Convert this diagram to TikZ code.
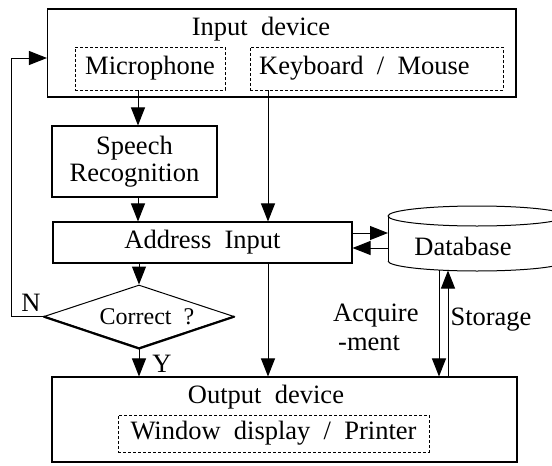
\documentclass[tikz,border=0pt]{standalone}
\usepackage{fontspec}
\setmainfont{Liberation Serif}
\usetikzlibrary{arrows.meta,shapes.geometric}
\begin{document}
\begin{tikzpicture}[x=1pt,y=-1pt,
  every node/.style={font=\fontsize{26.5}{27}\selectfont, inner sep=0pt},
  box/.style={draw, line width=1.1pt, inner sep=0pt},
  dbox/.style={draw, line width=0.8pt, dash pattern=on 3pt off 2pt},
  arr/.style={line width=1pt, -{Triangle[length=18pt,width=14pt]}},
  ln/.style={line width=1pt}]
\useasboundingbox (0,0) rectangle (552,466);
\clip (0,0) rectangle (552,466);

% boxes
\node[box, minimum width=468.5, minimum height=88] (input) at (281.75,53) {};
\node (inlabel) at (261,29) {Input~~device};
\node[dbox, minimum width=150, minimum height=43] (mic) at (150,68.5) {Microphone};
\node[dbox, minimum width=253, minimum height=43] (kb) at (376.5,68.5) {};
\node[anchor=west] (kbtext) at (259,68.5) {Keyboard~~/~~Mouse};

\node[box, minimum width=165, minimum height=71, align=center] (speech) at (134.5,161.5) {Speech\\Recognition};
\node[box, minimum width=299, minimum height=41] (address) at (202.5,242.5) {Address~~Input};

% database cylinder
\draw[ln] (477,216) ellipse [x radius=89, y radius=10];
\draw[ln] (388,216) -- (388,261);
\draw[ln] (566,216) -- (566,261);
\draw[ln] (388,261) arc[start angle=180, end angle=0, x radius=89, y radius=10];
\node (db) at (463,246) {Database};

% decision
\node[draw, diamond, line width=1pt, minimum width=190, minimum height=63, aspect=3, inner sep=0] (dia) at (139,316.5) {};
\draw[line width=2.2pt, line join=miter] (dia.west) -- (dia.south) -- (dia.east);
\node[font=\fontsize{24}{26}\selectfont] (dtext) at (147,317) {Correct~~?};

% output
\node[box, minimum width=465, minimum height=85] (output) at (284.5,419.5) {};
\node (outlabel) at (266,397) {Output~~device};
\node[dbox, minimum width=311, minimum height=37] (win) at (273.5,433.5) {Window~~display~~/~~Printer};

% labels
\node (nlab) at (31,303) {N};
\node (ylab) at (162,364) {Y};
\node[anchor=west, align=left, font=\fontsize{26.5}{29}\selectfont] (acq) at (333,327) {Acquire\\\hspace{5pt}-ment};
\node (stor) at (491,320) {Storage};

% connectors
\coordinate (c1) at (138,0);
\coordinate (c2) at (268,0);
\draw[arr] (mic.south -| c1) -- (speech.north -| c1);
\draw[arr] (speech.south -| c1) -- (address.north -| c1);
\draw[arr] (kb.south -| c2) -- (address.north -| c2);
\draw[arr] (address.south -| dia.north) -- (dia.north);
\draw[arr] (dia.south) -- (output.north -| dia.south);
\draw[arr] (address.south -| c2) -- (output.north -| c2);
\coordinate (fb) at (11,58);
\draw[arr] (dia.west) -- (dia.west -| fb) -- (fb) -- (input.west |- fb);
\coordinate (dbin) at (388,233);
\coordinate (dbout) at (388,248);
\draw[arr] (address.east |- dbin) -- (dbin);
\draw[arr] (dbout) -- (address.east |- dbout);
\coordinate (dbb1) at (439,270);
\coordinate (dbb2) at (448,270.5);
\draw[arr] (dbb1) -- (output.north -| dbb1);
\draw[arr] (output.north -| dbb2) -- (dbb2);
\end{tikzpicture}
\end{document}
